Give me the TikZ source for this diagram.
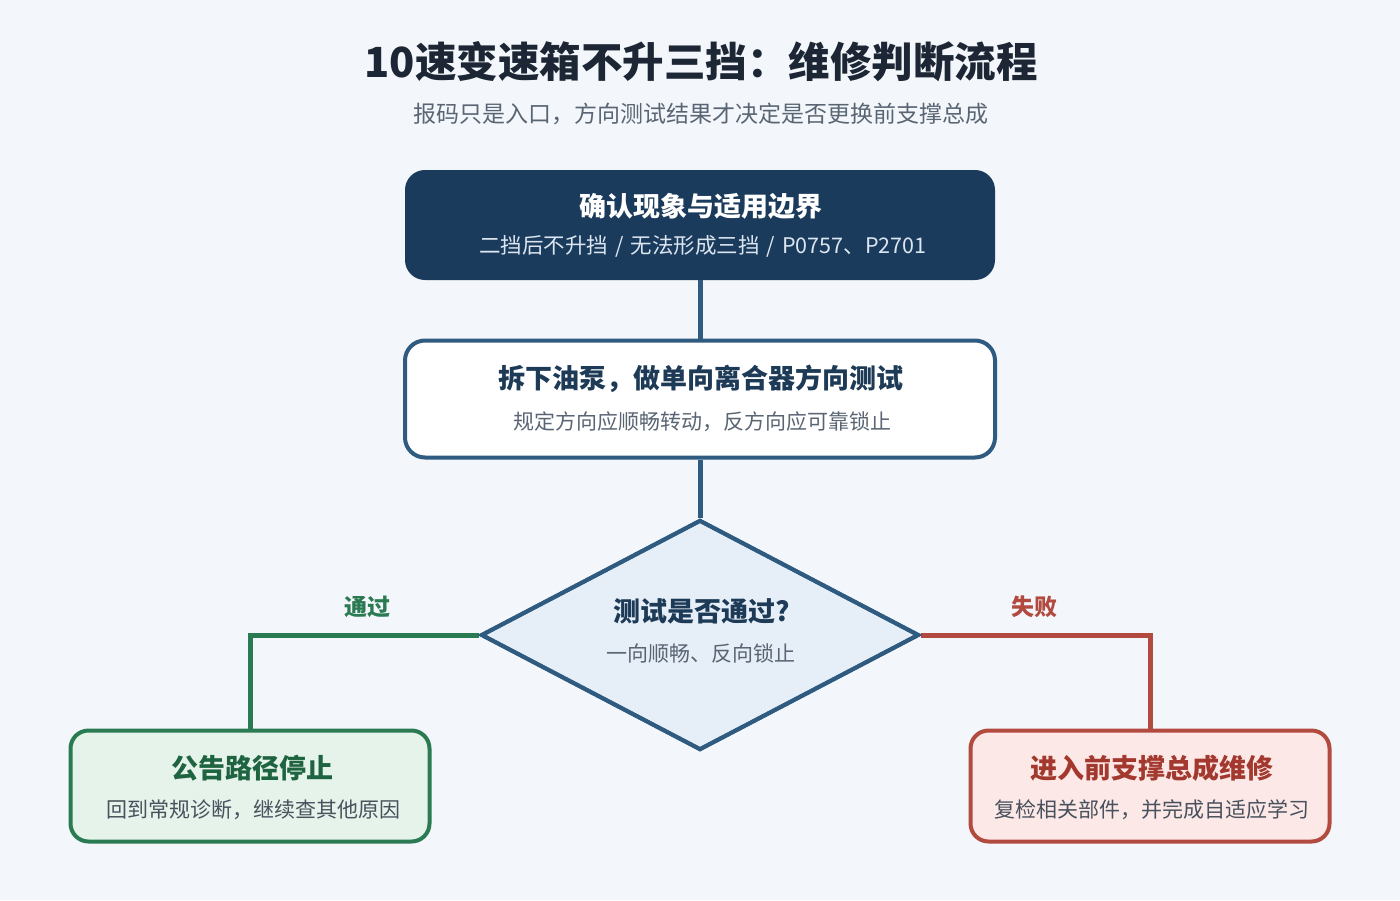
\documentclass[tikz,border=0pt]{standalone}
\usepackage{fontspec}
\setmainfont{Noto Sans CJK SC}
\usetikzlibrary{shapes.geometric}
\definecolor{bg}{HTML}{F3F7FB}
\definecolor{titlec}{HTML}{1C2634}
\definecolor{subc}{HTML}{5A6574}
\definecolor{navy}{HTML}{1B3B5C}
\definecolor{navyline}{HTML}{2F5B80}
\definecolor{navytext}{HTML}{1D3A57}
\definecolor{lightsub}{HTML}{DCE6F1}
\definecolor{diafill}{HTML}{E6EFF8}
\definecolor{grn}{HTML}{2A7A52}
\definecolor{grnfill}{HTML}{E6F3EA}
\definecolor{grntext}{HTML}{1F6440}
\definecolor{red}{HTML}{B24A3F}
\definecolor{redfill}{HTML}{FCE9E7}
\definecolor{redtext}{HTML}{A3382E}
\newcommand{\slsep}{\hspace{7pt}/\hspace{7pt}}
\begin{document}
\begin{tikzpicture}[x=1pt,y=-1pt,
  box/.style={rectangle,rounded corners=18pt,inner sep=0pt,line width=4pt},
  ttl/.style={font=\fontsize{27}{31}\selectfont\bfseries,inner sep=0pt,anchor=center},
  sub/.style={font=\fontsize{21}{25}\selectfont,inner sep=0pt,anchor=center,text=subc},
  conn/.style={line width=5pt,draw=navyline},
  lbl/.style={font=\fontsize{23}{26}\selectfont\bfseries,inner sep=0pt}]
\fill[bg] (0,0) rectangle (1400,900);
\useasboundingbox (0,0) rectangle (1400,900);
% title
\node[font=\fontsize{41.5}{48}\selectfont\bfseries,text=titlec,inner sep=0pt] (title) at (701,62) {10速变速箱不升三挡：维修判断流程};
\node[font=\fontsize{23}{27}\selectfont,text=subc,inner sep=0pt] (subtitle) at (701,114) {报码只是入口，方向测试结果才决定是否更换前支撑总成};
% box 1
\node[box,fill=navy,draw=navy,minimum width=586pt,minimum height=106pt] (b1) at (700,225) {};
\node[ttl,text=white] (b1t) at (701,206) {确认现象与适用边界};
\node[sub,text=lightsub,font=\fontsize{21.5}{25}\selectfont] (b1s) at (703,246) {二挡后不升挡\slsep 无法形成三挡\slsep P0757、P2701};
% box 2
\node[box,rounded corners=20pt,fill=white,draw=navyline,minimum width=590pt,minimum height=117pt] (b2) at (700,399) {};
\node[ttl,text=navytext] (b2t) at (701,379) {拆下油泵，做单向离合器方向测试};
\node[sub] (b2s) at (702,422) {规定方向应顺畅转动，反方向应可靠锁止};
% diamond
\node[diamond,fill=diafill,draw=navyline,line width=4pt,inner sep=0pt,minimum width=438pt,minimum height=230pt] (d) at (700,635) {};
\node[ttl,text=navytext] (dt) at (702,611) {测试是否通过?};
\node[sub] (ds) at (701,653) {一向顺畅、反向锁止};
% green box
\node[box,fill=grnfill,draw=grn,minimum width=359pt,minimum height=111pt] (g) at (250,786) {};
\node[ttl,text=grntext] (gt) at (252,768) {公告路径停止};
\node[sub,text=subc!80!black] (gs) at (253,810) {回到常规诊断，继续查其他原因};
% red box
\node[box,fill=redfill,draw=red,minimum width=359pt,minimum height=111pt] (r) at (1150,786) {};
\node[ttl,text=redtext] (rt) at (1152,768) {进入前支撑总成维修};
\node[sub,text=subc!80!black] (rs) at (1152,810) {复检相关部件，并完成自适应学习};
% connectors
\draw[conn] (b1.south) -- (b2.north);
\draw[conn] (b2.south) -- (d.north);
\draw[line width=5pt,draw=grn] (d.west) -| (g.north);
\draw[line width=5pt,draw=red] (d.east) -| (r.north);
% redraw diamond outline on top of connector ends
\node[diamond,draw=navyline,line width=4pt,inner sep=0pt,minimum width=438pt,minimum height=230pt] (d2) at (700,635) {};
\node[lbl,text=grn] (lg) at (367,607) {通过};
\node[lbl,text=red] (lr) at (1034,607) {失败};
\end{tikzpicture}
\end{document}
